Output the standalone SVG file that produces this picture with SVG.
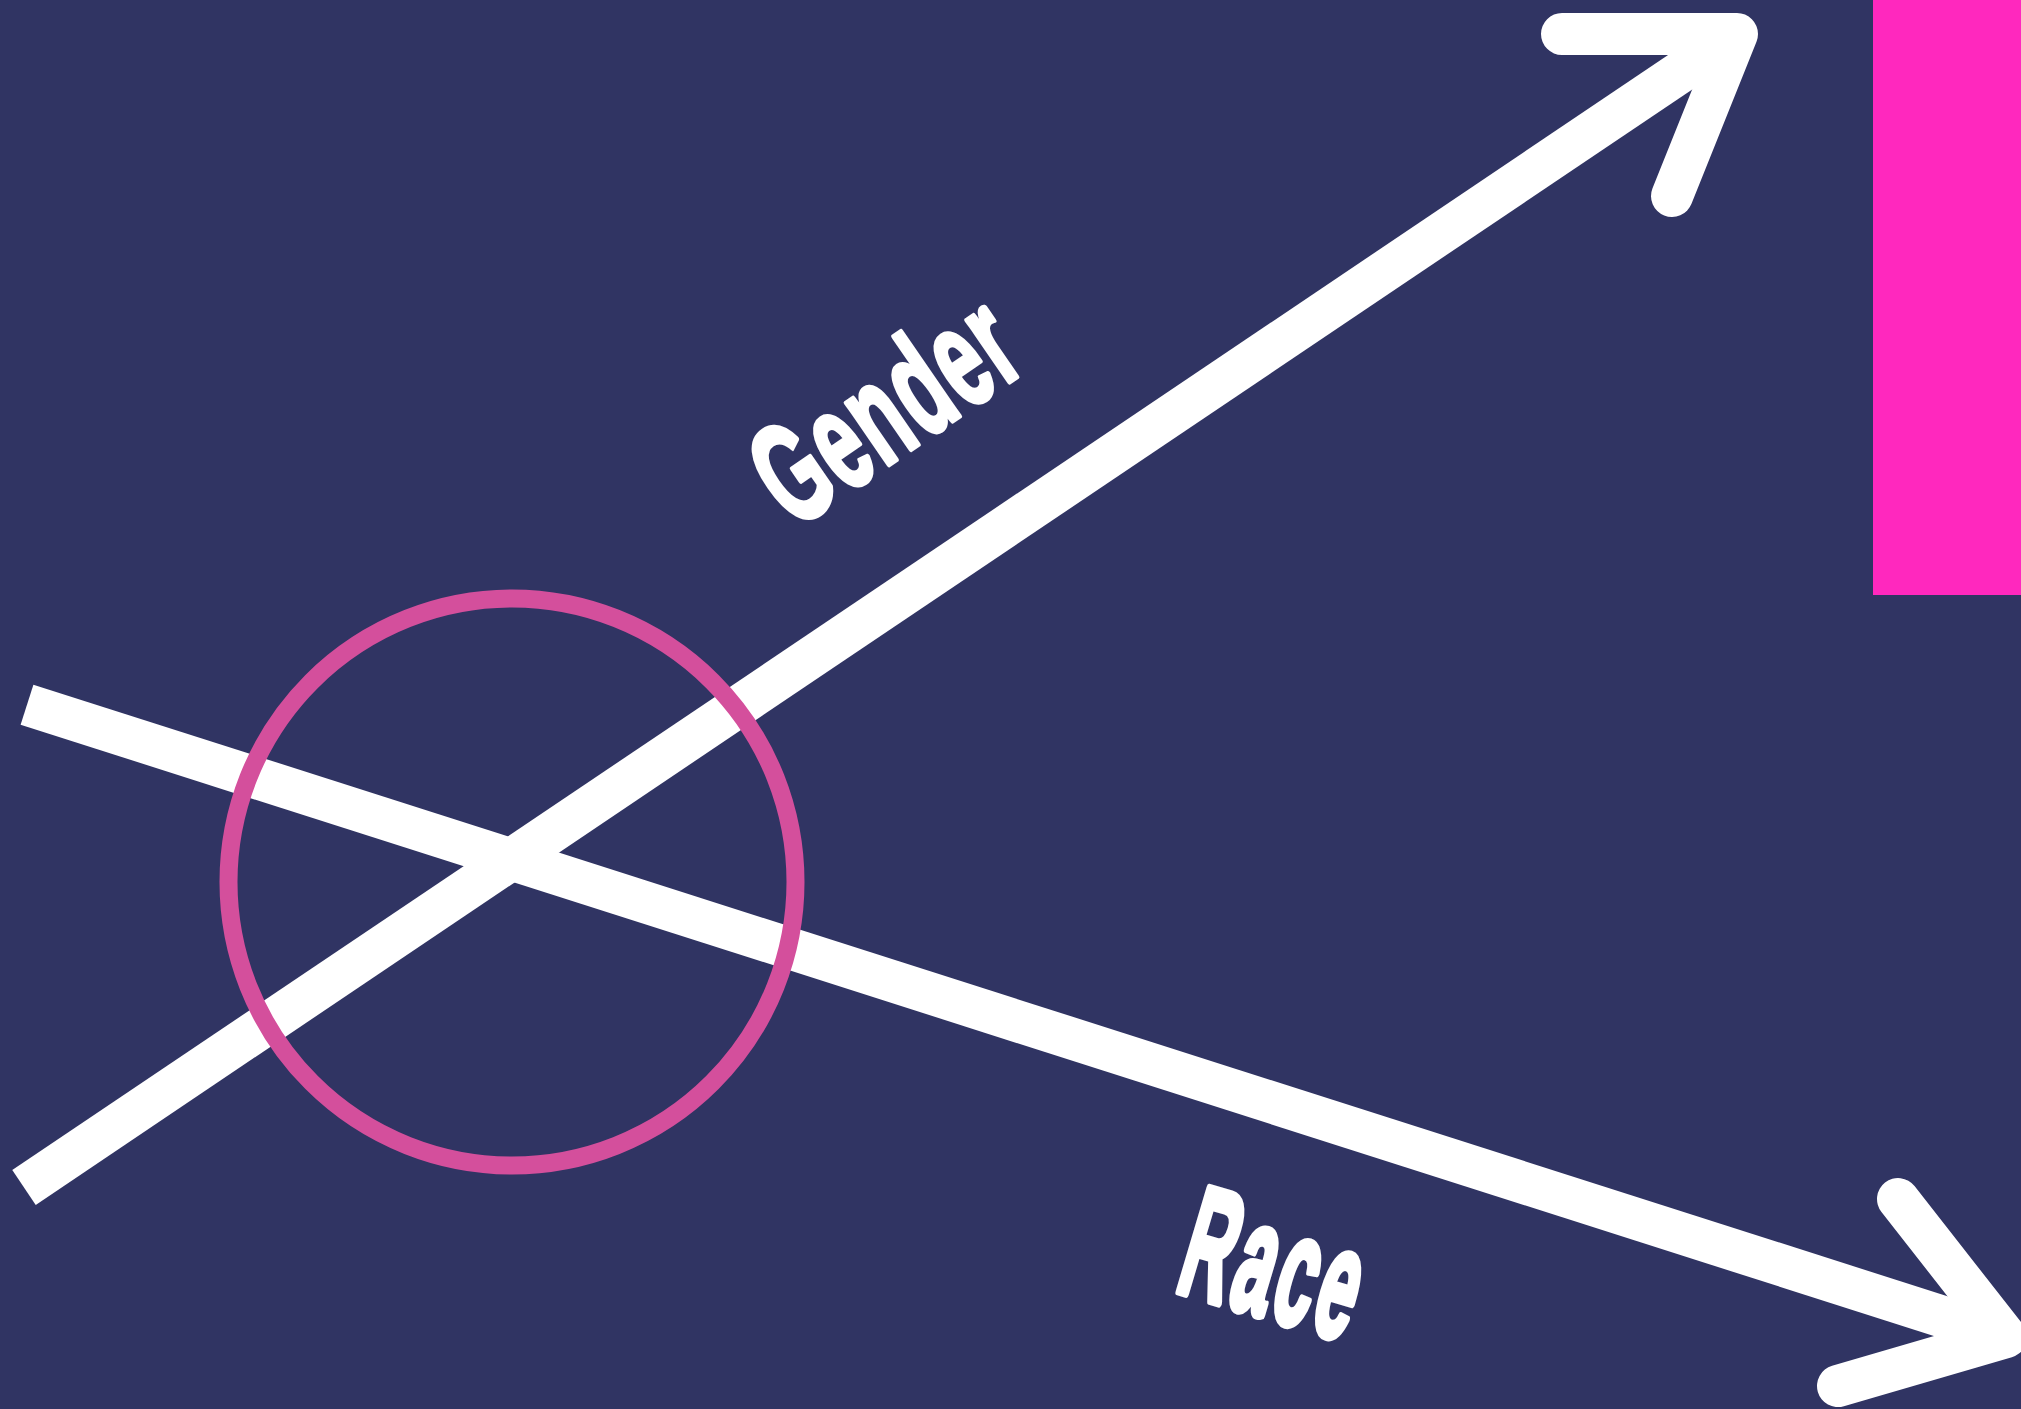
<svg xmlns="http://www.w3.org/2000/svg" width="2021" height="1409" viewBox="0 0 2021 1409">
  <style>
    .bg { fill: #303463; }
    .shaft { fill: none; stroke: #ffffff; stroke-width: 42; stroke-linecap: butt; }
    .head { fill: none; stroke: #ffffff; stroke-width: 42; stroke-linecap: round; stroke-linejoin: round; }
    .ring { fill: none; stroke: #d44f9c; stroke-width: 18; }
    .label { font-family: "Liberation Sans", Arial, sans-serif; font-weight: bold; fill: #ffffff; stroke: #ffffff; stroke-linejoin: round; vector-effect: non-scaling-stroke; }
  </style>
  <rect class="bg" x="0" y="0" width="2021" height="1409"/>
  <g id="accent-bar">
    <rect x="1873" y="0" width="148" height="595" fill="#ff28be"/>
  </g>
  <g id="connectors">
    <g id="axis-gender">
      <line class="shaft" x1="24" y1="1187.5" x2="1737" y2="34"/>
      <polyline class="head" points="1562,34 1737,34 1672,196"/>
    </g>
    <g id="axis-race">
      <line class="shaft" x1="27" y1="704.7" x2="2006" y2="1337"/>
      <polyline class="head" points="1898,1199 2006,1337 1838,1386"/>
    </g>
  </g>
  <g id="intersection-circle">
    <circle class="ring" cx="512" cy="882" r="283.5"/>
  </g>
  <g id="label-gender">
    <text class="label" font-size="78" stroke-width="4" letter-spacing="2.5" transform="translate(794,530) rotate(-34.5) scale(1,1.82)">Gender</text>
  </g>
  <g id="label-race">
    <text class="label" font-size="70" stroke-width="6" letter-spacing="4" transform="translate(1173,1290) rotate(16.5) scale(1,2.25)">Race</text>
  </g>
</svg>
